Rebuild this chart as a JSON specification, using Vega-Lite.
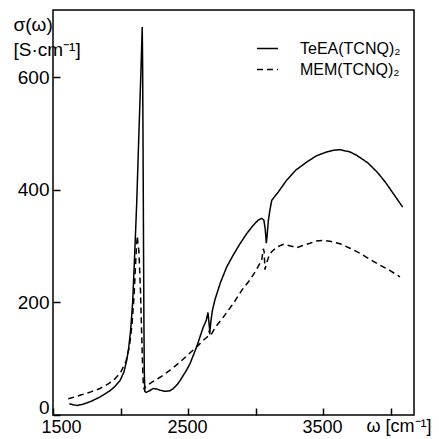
{
  "$schema": "https://vega.github.io/schema/vega-lite/v6.json",
  "width": 361,
  "height": 405,
  "autosize": {"type": "none"},
  "padding": {"left": 53, "top": 10, "right": 25, "bottom": 24},
  "background": "white",
  "config": {
    "view": {"stroke": "black", "strokeWidth": 1.5},
    "font": "Liberation Sans",
    "axis": {"grid": false, "domain": false, "tickColor": "black", "tickWidth": 1.5, "tickSize": -7, "labelColor": "black", "titleColor": "black", "labelFont": "Liberation Sans", "titleFont": "Liberation Sans", "titleFontWeight": "normal"}
  },
  "data": {"values": [
    {"w":1621,"s":20,"c":"TeEA(TCNQ)₂"},{"w":1650,"s":18,"c":"TeEA(TCNQ)₂"},{"w":1680,"s":17,"c":"TeEA(TCNQ)₂"},{"w":1720,"s":19,"c":"TeEA(TCNQ)₂"},{"w":1780,"s":24,"c":"TeEA(TCNQ)₂"},{"w":1848,"s":32,"c":"TeEA(TCNQ)₂"},{"w":1922,"s":43,"c":"TeEA(TCNQ)₂"},{"w":1960,"s":51,"c":"TeEA(TCNQ)₂"},{"w":1996,"s":61,"c":"TeEA(TCNQ)₂"},{"w":2025,"s":76,"c":"TeEA(TCNQ)₂"},{"w":2046,"s":97,"c":"TeEA(TCNQ)₂"},{"w":2060,"s":118,"c":"TeEA(TCNQ)₂"},{"w":2075,"s":150,"c":"TeEA(TCNQ)₂"},{"w":2090,"s":200,"c":"TeEA(TCNQ)₂"},{"w":2105,"s":285,"c":"TeEA(TCNQ)₂"},{"w":2120,"s":376,"c":"TeEA(TCNQ)₂"},{"w":2135,"s":490,"c":"TeEA(TCNQ)₂"},{"w":2150,"s":600,"c":"TeEA(TCNQ)₂"},{"w":2158,"s":665,"c":"TeEA(TCNQ)₂"},{"w":2161,"s":689,"c":"TeEA(TCNQ)₂"},{"w":2164,"s":620,"c":"TeEA(TCNQ)₂"},{"w":2167,"s":480,"c":"TeEA(TCNQ)₂"},{"w":2170,"s":330,"c":"TeEA(TCNQ)₂"},{"w":2173,"s":180,"c":"TeEA(TCNQ)₂"},{"w":2176,"s":80,"c":"TeEA(TCNQ)₂"},{"w":2180,"s":42,"c":"TeEA(TCNQ)₂"},{"w":2190,"s":40,"c":"TeEA(TCNQ)₂"},{"w":2215,"s":43,"c":"TeEA(TCNQ)₂"},{"w":2243,"s":47,"c":"TeEA(TCNQ)₂"},{"w":2270,"s":46,"c":"TeEA(TCNQ)₂"},{"w":2293,"s":44,"c":"TeEA(TCNQ)₂"},{"w":2330,"s":42,"c":"TeEA(TCNQ)₂"},{"w":2367,"s":43,"c":"TeEA(TCNQ)₂"},{"w":2391,"s":47,"c":"TeEA(TCNQ)₂"},{"w":2420,"s":54,"c":"TeEA(TCNQ)₂"},{"w":2441,"s":61,"c":"TeEA(TCNQ)₂"},{"w":2480,"s":76,"c":"TeEA(TCNQ)₂"},{"w":2515,"s":91,"c":"TeEA(TCNQ)₂"},{"w":2564,"s":121,"c":"TeEA(TCNQ)₂"},{"w":2613,"s":156,"c":"TeEA(TCNQ)₂"},{"w":2635,"s":168,"c":"TeEA(TCNQ)₂"},{"w":2648,"s":182,"c":"TeEA(TCNQ)₂"},{"w":2655,"s":165,"c":"TeEA(TCNQ)₂"},{"w":2662,"s":147,"c":"TeEA(TCNQ)₂"},{"w":2668,"s":163,"c":"TeEA(TCNQ)₂"},{"w":2680,"s":185,"c":"TeEA(TCNQ)₂"},{"w":2700,"s":205,"c":"TeEA(TCNQ)₂"},{"w":2740,"s":235,"c":"TeEA(TCNQ)₂"},{"w":2787,"s":263,"c":"TeEA(TCNQ)₂"},{"w":2835,"s":284,"c":"TeEA(TCNQ)₂"},{"w":2885,"s":304,"c":"TeEA(TCNQ)₂"},{"w":2935,"s":322,"c":"TeEA(TCNQ)₂"},{"w":2984,"s":337,"c":"TeEA(TCNQ)₂"},{"w":3020,"s":346,"c":"TeEA(TCNQ)₂"},{"w":3046,"s":349,"c":"TeEA(TCNQ)₂"},{"w":3062,"s":346,"c":"TeEA(TCNQ)₂"},{"w":3072,"s":330,"c":"TeEA(TCNQ)₂"},{"w":3080,"s":305,"c":"TeEA(TCNQ)₂"},{"w":3086,"s":318,"c":"TeEA(TCNQ)₂"},{"w":3095,"s":345,"c":"TeEA(TCNQ)₂"},{"w":3107,"s":364,"c":"TeEA(TCNQ)₂"},{"w":3120,"s":381,"c":"TeEA(TCNQ)₂"},{"w":3169,"s":396,"c":"TeEA(TCNQ)₂"},{"w":3231,"s":417,"c":"TeEA(TCNQ)₂"},{"w":3300,"s":435,"c":"TeEA(TCNQ)₂"},{"w":3379,"s":449,"c":"TeEA(TCNQ)₂"},{"w":3450,"s":460,"c":"TeEA(TCNQ)₂"},{"w":3527,"s":467,"c":"TeEA(TCNQ)₂"},{"w":3580,"s":470,"c":"TeEA(TCNQ)₂"},{"w":3626,"s":471,"c":"TeEA(TCNQ)₂"},{"w":3700,"s":467,"c":"TeEA(TCNQ)₂"},{"w":3750,"s":461,"c":"TeEA(TCNQ)₂"},{"w":3830,"s":448,"c":"TeEA(TCNQ)₂"},{"w":3898,"s":432,"c":"TeEA(TCNQ)₂"},{"w":3960,"s":414,"c":"TeEA(TCNQ)₂"},{"w":4021,"s":393,"c":"TeEA(TCNQ)₂"},{"w":4090,"s":369,"c":"TeEA(TCNQ)₂"},
    {"w":1613,"s":29,"c":"MEM(TCNQ)₂"},{"w":1660,"s":32,"c":"MEM(TCNQ)₂"},{"w":1700,"s":35,"c":"MEM(TCNQ)₂"},{"w":1780,"s":41,"c":"MEM(TCNQ)₂"},{"w":1848,"s":47,"c":"MEM(TCNQ)₂"},{"w":1900,"s":54,"c":"MEM(TCNQ)₂"},{"w":1947,"s":61,"c":"MEM(TCNQ)₂"},{"w":2000,"s":75,"c":"MEM(TCNQ)₂"},{"w":2040,"s":95,"c":"MEM(TCNQ)₂"},{"w":2065,"s":120,"c":"MEM(TCNQ)₂"},{"w":2085,"s":160,"c":"MEM(TCNQ)₂"},{"w":2100,"s":210,"c":"MEM(TCNQ)₂"},{"w":2112,"s":270,"c":"MEM(TCNQ)₂"},{"w":2120,"s":305,"c":"MEM(TCNQ)₂"},{"w":2125,"s":318,"c":"MEM(TCNQ)₂"},{"w":2130,"s":300,"c":"MEM(TCNQ)₂"},{"w":2135,"s":295,"c":"MEM(TCNQ)₂"},{"w":2140,"s":270,"c":"MEM(TCNQ)₂"},{"w":2148,"s":220,"c":"MEM(TCNQ)₂"},{"w":2155,"s":160,"c":"MEM(TCNQ)₂"},{"w":2162,"s":100,"c":"MEM(TCNQ)₂"},{"w":2168,"s":60,"c":"MEM(TCNQ)₂"},{"w":2175,"s":45,"c":"MEM(TCNQ)₂"},{"w":2181,"s":49,"c":"MEM(TCNQ)₂"},{"w":2230,"s":58,"c":"MEM(TCNQ)₂"},{"w":2293,"s":67,"c":"MEM(TCNQ)₂"},{"w":2370,"s":80,"c":"MEM(TCNQ)₂"},{"w":2441,"s":94,"c":"MEM(TCNQ)₂"},{"w":2500,"s":107,"c":"MEM(TCNQ)₂"},{"w":2564,"s":121,"c":"MEM(TCNQ)₂"},{"w":2620,"s":134,"c":"MEM(TCNQ)₂"},{"w":2650,"s":140,"c":"MEM(TCNQ)₂"},{"w":2658,"s":150,"c":"MEM(TCNQ)₂"},{"w":2665,"s":140,"c":"MEM(TCNQ)₂"},{"w":2700,"s":155,"c":"MEM(TCNQ)₂"},{"w":2750,"s":170,"c":"MEM(TCNQ)₂"},{"w":2836,"s":198,"c":"MEM(TCNQ)₂"},{"w":2900,"s":222,"c":"MEM(TCNQ)₂"},{"w":2959,"s":240,"c":"MEM(TCNQ)₂"},{"w":3000,"s":255,"c":"MEM(TCNQ)₂"},{"w":3046,"s":275,"c":"MEM(TCNQ)₂"},{"w":3058,"s":295,"c":"MEM(TCNQ)₂"},{"w":3064,"s":290,"c":"MEM(TCNQ)₂"},{"w":3070,"s":258,"c":"MEM(TCNQ)₂"},{"w":3080,"s":268,"c":"MEM(TCNQ)₂"},{"w":3100,"s":283,"c":"MEM(TCNQ)₂"},{"w":3120,"s":290,"c":"MEM(TCNQ)₂"},{"w":3157,"s":298,"c":"MEM(TCNQ)₂"},{"w":3206,"s":303,"c":"MEM(TCNQ)₂"},{"w":3260,"s":300,"c":"MEM(TCNQ)₂"},{"w":3305,"s":297,"c":"MEM(TCNQ)₂"},{"w":3350,"s":301,"c":"MEM(TCNQ)₂"},{"w":3404,"s":305,"c":"MEM(TCNQ)₂"},{"w":3450,"s":309,"c":"MEM(TCNQ)₂"},{"w":3502,"s":310,"c":"MEM(TCNQ)₂"},{"w":3560,"s":308,"c":"MEM(TCNQ)₂"},{"w":3626,"s":304,"c":"MEM(TCNQ)₂"},{"w":3700,"s":296,"c":"MEM(TCNQ)₂"},{"w":3774,"s":287,"c":"MEM(TCNQ)₂"},{"w":3850,"s":276,"c":"MEM(TCNQ)₂"},{"w":3922,"s":266,"c":"MEM(TCNQ)₂"},{"w":4000,"s":256,"c":"MEM(TCNQ)₂"},{"w":4070,"s":245,"c":"MEM(TCNQ)₂"}
  ]},
  "mark": {"type": "line", "color": "black", "strokeWidth": 1.5, "clip": true},
  "encoding": {
    "x": {"field": "w", "type": "quantitative",
      "scale": {"domain": [1500, 4174], "nice": false, "zero": false},
      "axis": {"values": [1500, 2000, 2500, 3000, 3500, 4000], "labelExpr": "datum.value % 1000 == 500 ? datum.label : ''", "format": "d", "labelFontSize": 18, "labelPadding": 10, "labelBaseline": "top", "labelFlush": false,
        "labelOffset": {"condition": {"test": "datum.value == 1500", "value": 8}, "value": -1},
        "title": "ω [cm⁻¹]", "titleFontSize": 18, "titleX": 313, "titleY": 2, "titleAlign": "left", "titleBaseline": "top", "titleAngle": 0}},
    "y": {"field": "s", "type": "quantitative",
      "scale": {"domain": [0, 719], "nice": false},
      "axis": {"values": [0, 200, 400, 600], "labelFontSize": 19, "labelPadding": 11, "labelFlush": false,
        "labelOffset": {"condition": {"test": "datum.value == 0", "value": -8}, "value": 0},
        "title": ["σ(ω)", "[S·cm⁻¹]"], "titleFontSize": 19, "titleAngle": 0, "titleX": -40, "titleY": 14, "titleAlign": "left", "titleBaseline": "middle", "titleLineHeight": 25}},
    "strokeDash": {"field": "c", "type": "nominal",
      "scale": {"domain": ["TeEA(TCNQ)₂", "MEM(TCNQ)₂"], "range": [[1, 0], [6, 4]]},
      "legend": {"title": null, "orient": "none", "legendX": 203, "legendY": 27, "symbolType": "stroke", "symbolSize": 441, "symbolStrokeColor": "black", "symbolStrokeWidth": 1.5, "labelFontSize": 16, "labelFont": "Liberation Sans", "labelColor": "black", "labelOffset": 21, "rowPadding": 1, "padding": 0}}
  }
}
